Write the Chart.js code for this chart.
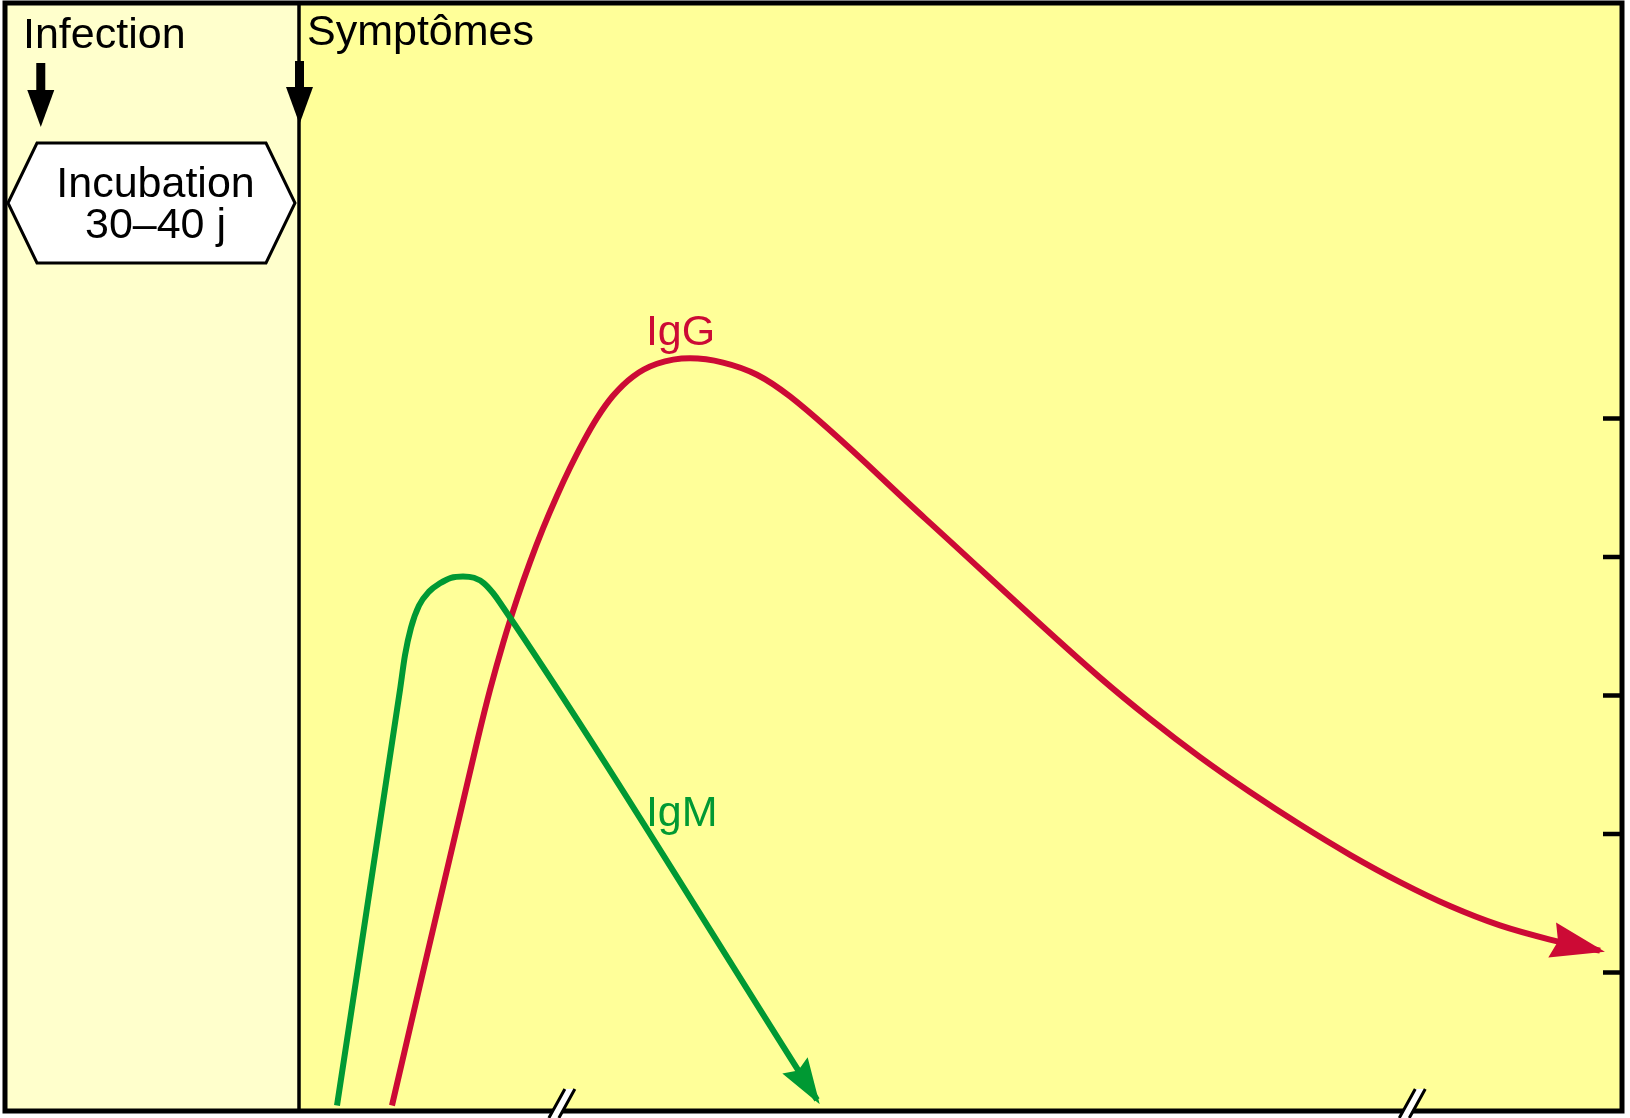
<!DOCTYPE html>
<html>
<head>
<meta charset="utf-8">
<script src="https://cdn.jsdelivr.net/npm/chart.js@4"></script>
<style>
  html, body { margin: 0; padding: 0; background: #fff; }
  #wrap { width: 1630px; height: 1118px; }
</style>
</head>
<body>
<div id="wrap"><canvas id="chart" width="1630" height="1118"></canvas></div>
<script>
// x: days after infection (axis broken twice), y: antibody level (arbitrary units)
const igmDays = [45.17, 53.74, 54.42, 55.24, 56.33, 57.69, 59.18, 60.68, 62.31, 63.81, 65.17, 66.39, 67.35, 110.48];
const igmLevels = [0.04, 3.04, 3.29, 3.49, 3.65, 3.75, 3.81, 3.85, 3.86, 3.85, 3.81, 3.74, 3.67, 0.08];

const iggDays = [52.65, 64.35, 65.99, 67.76, 69.66, 71.43, 73.20, 75.10, 76.87, 78.64, 80.54, 82.72, 85.44, 88.71,
  93.20, 97.69, 102.31, 106.80, 125.17, 148.98, 155.78, 162.59, 169.39, 176.19, 183.00, 189.80, 196.60,
  203.40, 210.20, 217.01];
const iggLevels = [0.04, 2.693, 3.041, 3.377, 3.696, 3.963, 4.206, 4.442, 4.644, 4.828, 5.003, 5.164, 5.303, 5.395,
  5.435, 5.404, 5.316, 5.159, 4.279, 3.129, 2.831, 2.555, 2.303, 2.068, 1.850, 1.653, 1.480,
  1.340, 1.238, 1.158];

const infectionDay = 4.8;
const symptomsDay = 40;
const yTicks = [1, 2, 3, 4, 5];
const axisBreaks = [75.9, 191.6];

const FONT = '43px "Liberation Sans", Arial, sans-serif';

function toPoints(xs, ys) {
  return xs.map((v, i) => ({ x: v, y: ys[i] }));
}

function downArrow(ctx, cx, top, tip) {
  ctx.fillStyle = '#000';
  ctx.fillRect(cx - 4, top, 9, tip - top - 30);
  ctx.beginPath();
  ctx.moveTo(cx - 13, tip - 37);
  ctx.lineTo(cx + 14, tip - 37);
  ctx.lineTo(cx + 0.5, tip);
  ctx.closePath();
  ctx.fill();
}

function arrowHead(ctx, p0, p1, len, half, color) {
  const dx = p1.x - p0.x, dy = p1.y - p0.y;
  const d = Math.hypot(dx, dy);
  const ux = dx / d, uy = dy / d;
  const tx = p1.x + ux * 5, ty = p1.y + uy * 5;
  const bx = tx - ux * len, by = ty - uy * len;
  ctx.fillStyle = color;
  ctx.beginPath();
  ctx.moveTo(tx, ty);
  ctx.lineTo(bx - uy * half, by + ux * half);
  ctx.lineTo(bx + ux * 6, by + uy * 6);
  ctx.lineTo(bx + uy * half, by - ux * half);
  ctx.closePath();
  ctx.fill();
}

const decor = {
  id: 'decor',
  beforeDatasetsDraw(chart) {
    const { ctx, chartArea: a, scales: { x, y } } = chart;
    const sx = x.getPixelForValue(symptomsDay);
    ctx.save();
    ctx.fillStyle = '#ffff99';
    ctx.fillRect(a.left, a.top, a.right - a.left, a.bottom - a.top);
    ctx.fillStyle = '#ffffcc';
    ctx.fillRect(a.left, a.top, sx - a.left, a.bottom - a.top);

    // symptoms onset line
    ctx.strokeStyle = '#000';
    ctx.lineWidth = 3.5;
    ctx.beginPath();
    ctx.moveTo(sx, a.top);
    ctx.lineTo(sx, a.bottom);
    ctx.stroke();

    downArrow(ctx, x.getPixelForValue(infectionDay), 63, 127);
    downArrow(ctx, sx, 61, 124);

    // incubation hexagon
    const hl = a.left + 3, hr = sx - 4, ht = 143, hb = 263, inset = 29;
    const hm = (ht + hb) / 2;
    ctx.beginPath();
    ctx.moveTo(hl, hm);
    ctx.lineTo(hl + inset, ht);
    ctx.lineTo(hr - inset, ht);
    ctx.lineTo(hr, hm);
    ctx.lineTo(hr - inset, hb);
    ctx.lineTo(hl + inset, hb);
    ctx.closePath();
    ctx.fillStyle = '#fff';
    ctx.fill();
    ctx.lineWidth = 3;
    ctx.stroke();

    ctx.font = FONT;
    ctx.fillStyle = '#000';
    ctx.textBaseline = 'alphabetic';
    ctx.textAlign = 'left';
    ctx.fillText('Infection', 23, 48);
    ctx.fillText('Symptômes', sx + 8, 45);
    ctx.textAlign = 'center';
    const hc = (hl + hr) / 2 + 4;
    ctx.fillText('Incubation', hc, 197);
    ctx.fillText('30–40 j', hc, 238);

    // tick marks on the right edge
    ctx.strokeStyle = '#000';
    ctx.lineWidth = 4.5;
    yTicks.forEach(v => {
      const py = y.getPixelForValue(v);
      ctx.beginPath();
      ctx.moveTo(a.right - 19, py);
      ctx.lineTo(a.right, py);
      ctx.stroke();
    });
    ctx.restore();
  },
  afterDatasetsDraw(chart) {
    const { ctx, chartArea: a, scales: { x, y } } = chart;
    ctx.save();
    const heads = [[46, 15], [54, 18]];
    chart.data.datasets.forEach((ds, i) => {
      const pts = chart.getDatasetMeta(i).data;
      const n = pts.length;
      arrowHead(ctx, pts[n - 2], pts[n - 1], heads[i][0], heads[i][1], ds.borderColor);
    });

    ctx.font = FONT;
    ctx.textAlign = 'left';
    ctx.textBaseline = 'alphabetic';
    ctx.fillStyle = '#cc0a35';
    ctx.fillText('IgG', x.getPixelForValue(87.2), y.getPixelForValue(5.53));
    ctx.fillStyle = '#009933';
    ctx.fillText('IgM', x.getPixelForValue(87.2), y.getPixelForValue(2.06));

    // frame
    ctx.strokeStyle = '#000';
    ctx.lineWidth = 5;
    ctx.strokeRect(a.left, a.top, a.right - a.left, a.bottom - a.top);

    // axis break marks
    axisBreaks.forEach(v => {
      const cx = x.getPixelForValue(v);
      const b = chart.height, t = a.bottom - 22;
      ctx.fillStyle = '#fff';
      ctx.beginPath();
      ctx.moveTo(cx - 14, b);
      ctx.lineTo(cx + 2, t);
      ctx.lineTo(cx + 12, t);
      ctx.lineTo(cx - 4, b);
      ctx.closePath();
      ctx.fill();
      ctx.lineWidth = 3;
      ctx.beginPath();
      ctx.moveTo(cx - 14, b);
      ctx.lineTo(cx + 2, t);
      ctx.moveTo(cx - 4, b);
      ctx.lineTo(cx + 12, t);
      ctx.stroke();
    });
    ctx.restore();
  }
};

new Chart(document.getElementById('chart'), {
  type: 'line',
  data: {
    datasets: [
      {
        label: 'IgM',
        data: toPoints(igmDays, igmLevels),
        borderColor: '#009933',
        borderWidth: 6,
        pointRadius: 0,
        fill: false,
        cubicInterpolationMode: 'monotone'
      },
      {
        label: 'IgG',
        data: toPoints(iggDays, iggLevels),
        borderColor: '#cc0a35',
        borderWidth: 6,
        pointRadius: 0,
        fill: false,
        cubicInterpolationMode: 'monotone'
      }
    ]
  },
  options: {
    responsive: false,
    animation: false,
    layout: { padding: { left: 5, top: 3, right: 8, bottom: 7 } },
    scales: {
      x: { type: 'linear', min: 0, max: 220, display: false },
      y: { min: 0, max: 8, display: false }
    },
    plugins: {
      legend: { display: false },
      tooltip: { enabled: false }
    }
  },
  plugins: [decor]
});
</script>
</body>
</html>
